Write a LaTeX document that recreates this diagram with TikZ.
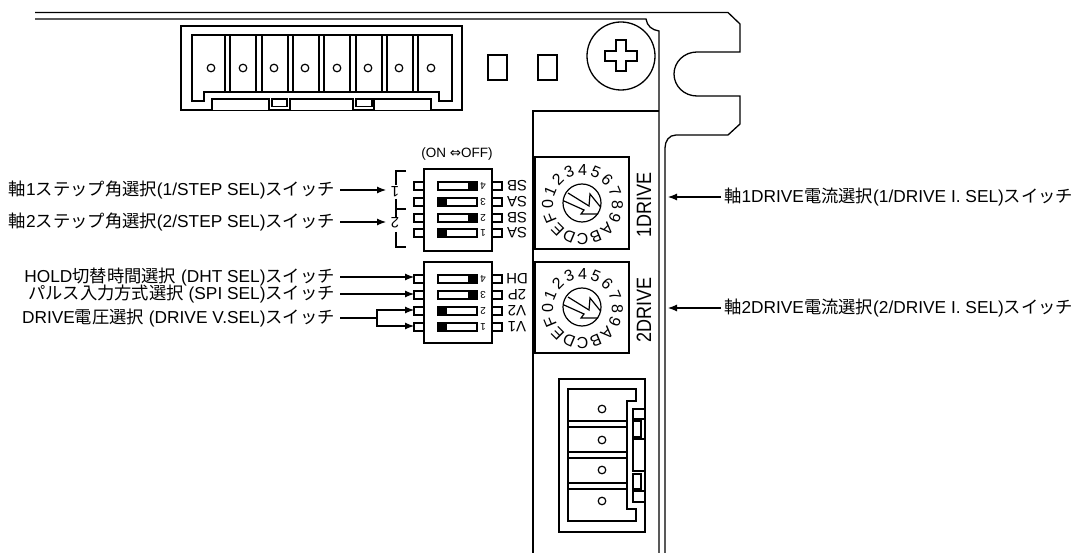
\documentclass[tikz,border=0pt]{standalone}
\usepackage{fontspec}
\setmainfont{Liberation Sans}
\newfontfamily\cjk{Noto Sans CJK JP}
\newfontfamily\dejavu{DejaVu Sans}
\usetikzlibrary{arrows.meta,calc}
\newcommand{\lab}{\fontsize{17.3}{19}\selectfont}
\tikzset{
 x=1pt,y=-1pt,
 line/.style={line width=1.3pt,black},
 thin line/.style={line width=1.1pt,black},
 callout/.style={line width=1.1pt,-{Latex[length=9pt,width=7pt]}},
 lbl/.style={inner sep=0pt,font=\lab},
 dip/.style={draw,line width=1.5pt,fill=white},
 pin/.style={draw,line width=1.1pt,fill=white},
 rotdig/.style={inner sep=0pt,font=\fontsize{16}{17}\selectfont},
 swname/.style={inner sep=0pt,rotate=180,font=\fontsize{15}{16}\selectfont},
 swnum/.style={inner sep=0pt,rotate=180,font=\fontsize{10}{11}\selectfont},
}
\newcommand{\diprow}[4]{% y, fill side (0 left,1 right), number, name
  \draw[pin] (414,#1-4) rectangle (424,#1+4);
  \draw[pin] (492,#1-4) rectangle (502,#1+4);
  \draw[line width=1.1pt] (438,#1-4) rectangle (477,#1+4);
  \ifnum#2=0 \fill (438,#1-4) rectangle (447,#1+4);\else \fill (468,#1-4) rectangle (477,#1+4);\fi
  \node[swnum] at (483,#1) {#3};
  \node[swname] at (517,#1) {#4};
}
\newcommand{\dial}[2]{%
  \draw[line width=1.2pt] (#1,#2) circle[radius=19];
  \begin{scope}[shift={(#1,#2)}]
   \draw[line width=1.2pt] (-14,-10) -- (7,3) -- (8,-9) -- (18.5,4) (-18,-2) -- (2,7) -- (-1,11) -- (16,11);
  \end{scope}
  \foreach \d [count=\i from 0] in {0,1,2,3,4,5,6,7,8,9,A,B,C,D,E,F}{
    \pgfmathsetmacro{\ang}{180-22.5*\i}
    \node[rotdig,rotate=\ang-90] at ($(#1+0.5,#2+1.5)+({35*cos(\ang)},{-35*sin(\ang)})$) {\d};
  }
}
\begin{document}
\begin{tikzpicture}
\useasboundingbox (0,0) rectangle (1077,553);
% chassis outlines
\draw[line] (35,12.5) -- (728,12.5) -- (740,24) -- (740,52) -- (697,52)
  .. controls (684,52) and (674,62) .. (674,74)
  .. controls (674,86) and (684,96) .. (697,96)
  -- (740,96) -- (740,124) -- (728,135) -- (676,135)
  .. controls (669,135) and (665,141) .. (665,148) -- (665,553);
\draw[line] (35,19) -- (646,19) .. controls (647,26) and (652,30) .. (659,31) -- (659,553);
\draw[line] (533,553) -- (533,111) -- (659,111);
% screw and holes
\draw[line] (621,56) circle[radius=34];
\draw[line] (616,40) -- (626,40) -- (626,51) -- (637,51) -- (637,61) -- (626,61) -- (626,71) -- (616,71) -- (616,61) -- (605,61) -- (605,51) -- (616,51) -- cycle;
\draw[line] (488,55) rectangle (507,80);
\draw[line] (538,55) rectangle (557,80);
% top connector
\draw[line] (181,110) -- (181,26) -- (462,26) -- (462,110) -- cycle;
\draw[line] (192,35) -- (452,35) -- (452,101) -- (439,101) -- (439,92) -- (204,92) -- (204,101) -- (192,101) -- cycle;
\draw[line width=1.8pt] (452,35) -- (452,101);
\foreach \a/\b in {225/230,256/262,288/293,319/324,350/356,382/387,413/418}{
  \draw[thin line] (\a,35) -- (\a,92); \draw[thin line] (\b,35) -- (\b,92);}
\foreach \x in {211,243,274,305,337,368,399,431}{\draw[line width=1.2pt] (\x,68) circle[radius=3.8];}
\draw[line,fill=white] (212,110) -- (212,99) -- (269,99) -- (269,110);
\draw[line] (272,106.5) -- (272,99) -- (287,99) -- (287,106.5) -- cycle;
\draw[line,fill=white] (290,110) -- (290,99) -- (353,99) -- (353,110);
\draw[line] (356,106.5) -- (356,99) -- (372,99) -- (372,106.5) -- cycle;
\draw[line,fill=white] (374,110) -- (374,99) -- (431,99) -- (431,110);
% dip switches
\draw[dip] (424,169) rectangle (492,251);
\diprow{186}{1}{4}{SB}\diprow{202}{0}{3}{SA}\diprow{218}{1}{2}{SB}\diprow{233}{0}{1}{SA}
\draw[dip] (424,262) rectangle (492,343);
\diprow{279}{1}{4}{DH}\diprow{295}{1}{3}{2P}\diprow{311}{0}{2}{V2}\diprow{327}{0}{1}{V1}
\node[inner sep=0pt,font=\fontsize{13.5}{15}\selectfont] (onoff) at (457,154) {(ON {\dejavu ⇔}OFF)};
% bracket
\draw[thin line] (406,171) -- (396,171) -- (396,185);
\draw[thin line] (396,199) -- (396,217) (396,209) -- (406,209);
\draw[thin line] (396,232) -- (396,247) -- (406,247);
\node[swname] (b1) at (395,192) {1};
\node[swname] (b2) at (395,223) {2};
% rotary switches
\draw[line] (535,157) rectangle (629,249);
\draw[line width=1.8pt] (535,157) -- (535,249);
\draw[line] (535,262) rectangle (629,353);
\draw[line width=1.8pt] (535,262) -- (535,353);
\dial{582}{203}
\dial{582}{307}
\node[inner sep=0pt,rotate=90,font=\fontsize{18}{20}\selectfont] (d1) at (644,205) {\scalebox{1}[1.15]{1DRIVE}};
\node[inner sep=0pt,rotate=90,font=\fontsize{18}{20}\selectfont] (d2) at (644,310) {\scalebox{1}[1.15]{2DRIVE}};
% bottom connector
\draw[line] (559,379) rectangle (645,532);
\draw[line] (568,389) -- (636,389) -- (636,401) -- (627,401) -- (627,509) -- (636,509) -- (636,521) -- (568,521) -- cycle;
\draw[line width=1.8pt] (568,421) rectangle (627,427);
\draw[thin line] (568,452) rectangle (627,458);
\draw[line width=1.8pt] (568,483) rectangle (627,489);
\foreach \y in {409,440,470,501}{\draw[line width=1.2pt] (602,\y) circle[radius=3.8];}
\draw[thin line] (633,409) rectangle (645,419);
\draw[thin line] (633,421) rectangle (641,437);
\draw[thin line] (633,439) rectangle (645,471);
\draw[thin line] (633,474) rectangle (641,489);
\draw[thin line] (633,491) rectangle (645,502);
% callouts
\node[lbl,anchor=east] (t1) at (335,190) {{\cjk 軸}1{\cjk ステップ角選択}(1/STEP SEL){\cjk スイッチ}};
\node[lbl,anchor=east] (t2) at (335,222) {{\cjk 軸}2{\cjk ステップ角選択}(2/STEP SEL){\cjk スイッチ}};
\node[lbl,anchor=east] (t3) at (335,277) {HOLD{\cjk 切替時間選択} (DHT SEL){\cjk スイッチ}};
\node[lbl,anchor=east] (t4) at (335,294) {{\cjk パルス入力方式選択} (SPI SEL){\cjk スイッチ}};
\node[lbl,anchor=east] (t5) at (335,318) {DRIVE{\cjk 電圧選択} (DRIVE V.SEL){\cjk スイッチ}};
\node[lbl,anchor=west] (t6) at (724,197) {{\cjk 軸}1DRIVE{\cjk 電流選択}(1/DRIVE I. SEL){\cjk スイッチ}};
\node[lbl,anchor=west] (t7) at (724,308) {{\cjk 軸}2DRIVE{\cjk 電流選択}(2/DRIVE I. SEL){\cjk スイッチ}};
\coordinate (a1) at (386,190); \coordinate (a2) at (386,222);
\coordinate (p3) at (414,277); \coordinate (p4) at (414,294);
\coordinate (p5) at (414,310); \coordinate (p6) at (414,326);
\coordinate (r1) at (668,197); \coordinate (r2) at (668,308);
\coordinate (br) at (377,318);
\draw[callout] ($(t1.east)+(5,0)$) -- (a1);
\draw[callout] ($(t2.east)+(5,0)$) -- (a2);
\draw[callout] ($(t3.east)+(5,0)$) -- (p3);
\draw[callout] ($(t4.east)+(5,0)$) -- (p4);
\draw[line width=1.1pt] ($(t5.east)+(5,0)$) -- (br);
\draw[callout] (br) |- (p5);
\draw[callout] (br) |- (p6);
\draw[callout] ($(t6.west)+(-3,0)$) -- (r1);
\draw[callout] ($(t7.west)+(-3,0)$) -- (r2);
\end{tikzpicture}
\end{document}
